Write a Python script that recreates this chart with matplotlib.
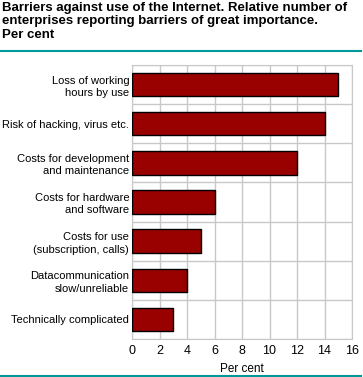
import numpy as np
import matplotlib.pyplot as plt
from matplotlib.lines import Line2D

# dados
categorias = ["Loss of working\nhours by use",
              "Risk of hacking, virus etc.",
              "Costs for development\nand maintenance",
              "Costs for hardware\nand software",
              "Costs for use\n(subscription, calls)",
              "Datacommunication\nslow/unreliable",
              "Technically complicated"]
valores = [15, 14, 12, 6, 5, 4, 3]
xticks = [0, 2, 4, 6, 8, 10, 12, 14, 16]

titulo = ("Barriers against use of the Internet. Relative number of\n"
          "enterprises reporting barriers of great importance.\n"
          "Per cent")

plt.rcParams['font.family'] = ['Liberation Sans', 'DejaVu Sans']
cinza = '#c8c8c8'
teal = '#009999'

fig = plt.figure(figsize=(3.63, 3.77), dpi=100, facecolor='w')
ax = fig.add_axes([132/363, 1-339/377, 220/363, 274/377])

y = np.arange(len(categorias))
ax.barh(y, valores, height=0.6, color='#990000', edgecolor='black', linewidth=1, zorder=3)
ax.set_ylim(len(categorias)-0.5, -0.5)
ax.set_xlim(0, 16)
ax.set_xticks(xticks)
ax.set_xticklabels([str(v) for v in xticks], fontsize=9)
ax.set_yticks(y)
ax.set_yticklabels(categorias, fontsize=8, linespacing=1.3)
ax.tick_params(length=0, pad=4)
ax.tick_params(axis='y', pad=2)

# grade: vertical em cada tick, horizontal entre categorias
for v in xticks:
    ax.axvline(v, color=cinza, linewidth=1, zorder=1)
for b in np.arange(len(categorias)+1) - 0.5:
    ax.axhline(b, color=cinza, linewidth=1, zorder=1)
for s in ax.spines.values():
    s.set_color(cinza)

ax.set_xlabel("Per cent", fontsize=8.5, labelpad=5)

fig.text(2/363, 1-2/377, titulo, fontsize=9.5, fontweight='bold', va='top', ha='left', linespacing=1.15)
fig.add_artist(Line2D([1/363, 361/363], [1-51/377, 1-51/377], color=teal, linewidth=1.5, transform=fig.transFigure))
fig.add_artist(Line2D([1/363, 361/363], [1-375.5/377, 1-375.5/377], color=teal, linewidth=1.5, transform=fig.transFigure))

fig.savefig("out.png", dpi=100)
